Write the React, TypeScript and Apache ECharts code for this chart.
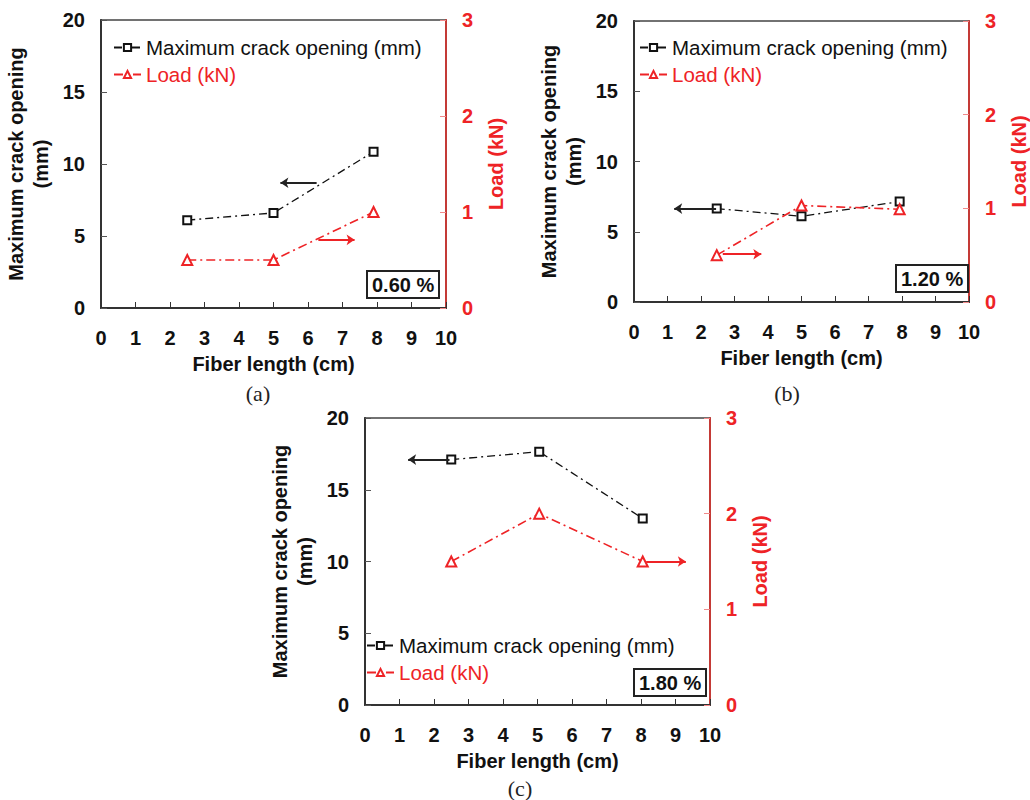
import React, { useEffect, useRef } from "react";
import * as echarts from "echarts";

// ---- data ----
const crackName = "Maximum crack opening (mm)";
const loadName = "Load (kN)";
const panelLabels = ["(a)", "(b)", "(c)"];
const percentLabels = ["0.60 %", "1.20 %", "1.80 %"];

const fiberA = [2.5, 5.0, 7.9];
const crackA = [6.1, 6.6, 10.85];
const loadA = [0.5, 0.5, 1.0];

const fiberB = [2.47, 5.0, 7.93];
const crackB = [6.65, 6.1, 7.15];
const loadB = [0.5, 1.03, 0.99];

const fiberC = [2.5, 5.05, 8.05];
const crackC = [17.1, 17.65, 13.0];
const loadC = [1.5, 2.0, 1.5];

// arrows: [xStart, xEnd, y]
const arrowCrack = [
  [6.25, 5.2, 8.7],
  [2.45, 1.2, 6.65],
  [2.45, 1.25, 17.1],
];
const arrowLoad = [
  [6.3, 7.35, 0.71],
  [2.65, 3.8, 0.51],
  [8.15, 9.3, 1.5],
];

const xTicks = { min: 0, max: 10, interval: 1 };
const leftTicks = { min: 0, max: 20, interval: 5 };
const rightTicks = { min: 0, max: 3, interval: 1 };

// ---- layout / style ----
const grids = [
  { left: 101, top: 20, width: 345, height: 288 },
  { left: 634, top: 21, width: 339, height: 281 },
  { left: 365, top: 418, width: 345, height: 287 },
];
const legendPos = [
  { left: 113, top: 37 },
  { left: 639, top: 37 },
  { left: 366, top: 635 },
];
const boxPos = [
  { left: 367, top: 271 },
  { left: 896, top: 265 },
  { left: 634, top: 669 },
];
const captionPos = [
  [258, 393],
  [787, 393],
  [520, 788],
];

const RED = "#ee2326";
const FONT = '"Liberation Sans", Arial, sans-serif';

function zip(xs: number[], ys: number[]) {
  return xs.map((x, i) => [x, ys[i]]);
}

export default function App() {
  const ref = useRef<HTMLDivElement>(null);
  useEffect(() => {
    if (!ref.current) return;
    const chart = echarts.init(ref.current, null, { renderer: "svg" });
    const fibers = [fiberA, fiberB, fiberC];
    const cracks = [crackA, crackB, crackC];
    const loads = [loadA, loadB, loadC];

    const xAxis: any[] = [];
    const yAxis: any[] = [];
    const series: any[] = [];
    const legend: any[] = [];
    const title: any[] = [];

    for (let i = 0; i < 3; i++) {
      xAxis.push({
        type: "value",
        gridIndex: i,
        ...xTicks,
        name: "Fiber length (cm)",
        nameLocation: "middle",
        nameGap: 46,
        nameTextStyle: { fontFamily: FONT, fontWeight: "bold", fontSize: 20, color: "#111" },
        axisLine: { show: true, lineStyle: { color: "#333", width: 2 } },
        axisTick: { show: true, inside: true, length: 6, lineStyle: { color: "#333", width: 1 } },
        axisLabel: { fontFamily: FONT, fontWeight: "bold", fontSize: 20, color: "#111", margin: 20 },
        splitLine: { show: false },
      });
      yAxis.push({
        type: "value",
        gridIndex: i,
        position: "left",
        ...leftTicks,
        name: "Maximum crack opening\n(mm)",
        nameLocation: "middle",
        nameRotate: 90,
        nameGap: 48,
        nameTextStyle: { fontFamily: FONT, fontWeight: "bold", fontSize: 20, color: "#111", lineHeight: 25 },
        axisLine: { show: true, lineStyle: { color: "#333", width: 2 } },
        axisTick: { show: true, inside: true, length: 6, lineStyle: { color: "#555", width: 1 } },
        axisLabel: { fontFamily: FONT, fontWeight: "bold", fontSize: 20, color: "#111", margin: 16 },
        splitLine: { show: false },
      });
      yAxis.push({
        type: "value",
        gridIndex: i,
        position: "right",
        ...rightTicks,
        name: "Load (kN)",
        nameLocation: "middle",
        nameRotate: 90,
        nameGap: 40,
        nameTextStyle: { fontFamily: FONT, fontWeight: "bold", fontSize: 20, color: RED },
        axisLine: { show: true, lineStyle: { color: "#c43a36", width: 2 } },
        axisTick: { show: true, inside: true, length: 6, lineStyle: { color: "#f08a8a", width: 1 } },
        axisLabel: { fontFamily: FONT, fontWeight: "bold", fontSize: 20, color: RED, margin: 16 },
        splitLine: { show: false },
      });

      series.push({
        name: crackName,
        type: "line",
        xAxisIndex: i,
        yAxisIndex: 2 * i,
        data: zip(fibers[i], cracks[i]),
        color: "#111",
        symbol: "emptyRect",
        symbolSize: 8,
        itemStyle: { color: "#111", borderColor: "#444", borderWidth: 1 },
        lineStyle: { color: "#111", width: 1.3, type: [8, 4, 2, 4] },
        z: 3,
      });
      series.push({
        name: loadName,
        type: "line",
        xAxisIndex: i,
        yAxisIndex: 2 * i + 1,
        data: zip(fibers[i], loads[i]),
        color: RED,
        symbol: "emptyTriangle",
        symbolSize: 10,
        itemStyle: { color: RED, borderColor: RED, borderWidth: 1.2 },
        lineStyle: { color: RED, width: 1.6, type: [9, 4, 2, 4] },
        z: 3,
      });
      const ac = arrowCrack[i];
      series.push({
        name: "arrowCrack" + i,
        type: "lines",
        coordinateSystem: "cartesian2d",
        xAxisIndex: i,
        yAxisIndex: 2 * i,
        symbol: ["none", "arrow"],
        symbolSize: 8,
        lineStyle: { color: "#222", width: 2, opacity: 1 },
        data: [{ coords: [[ac[0], ac[2]], [ac[1], ac[2]]] }],
        z: 4,
      });
      const al = arrowLoad[i];
      series.push({
        name: "arrowLoad" + i,
        type: "lines",
        coordinateSystem: "cartesian2d",
        xAxisIndex: i,
        yAxisIndex: 2 * i + 1,
        symbol: ["none", "arrow"],
        symbolSize: 8,
        lineStyle: { color: RED, width: 2, opacity: 1 },
        data: [{ coords: [[al[0], al[2]], [al[1], al[2]]] }],
        z: 4,
      });

      legend.push({
        orient: "vertical",
        left: legendPos[i].left,
        top: legendPos[i].top,
        itemWidth: 27,
        itemHeight: 9,
        itemGap: 6,
        padding: 0,
        selectedMode: false,
        textStyle: { fontFamily: FONT, fontSize: 20.5 },
        data: [
          { name: crackName, textStyle: { color: "#111" } },
          { name: loadName, textStyle: { color: RED } },
        ],
      });

      title.push({
        text: percentLabels[i],
        left: boxPos[i].left,
        top: boxPos[i].top,
        padding: [3, 5, 2, 5],
        borderColor: "#222",
        borderWidth: 2,
        backgroundColor: "#fff",
        textStyle: { fontFamily: FONT, fontWeight: "bold", fontSize: 20, color: "#111", lineHeight: 22 },
      });
    }

    const graphic = panelLabels.map((t, i) => ({
      type: "text",
      x: captionPos[i][0],
      y: captionPos[i][1],
      style: {
        text: t,
        fill: "#222",
        font: '22px "Liberation Serif", "DejaVu Serif", serif',
        align: "center",
        verticalAlign: "middle",
      },
    }));

    chart.setOption({
      animation: false,
      backgroundColor: "#fff",
      grid: grids.map((g) => ({
        ...g,
        show: true,
        borderColor: "#444",
        borderWidth: 1.5,
        backgroundColor: "transparent",
      })),
      xAxis,
      yAxis,
      series,
      legend,
      title,
      graphic,
    });
    return () => chart.dispose();
  }, []);
  return (
    <div
      ref={ref}
      style={{ position: "absolute", left: 0, top: 0, width: 1030, height: 800 }}
    />
  );
}
